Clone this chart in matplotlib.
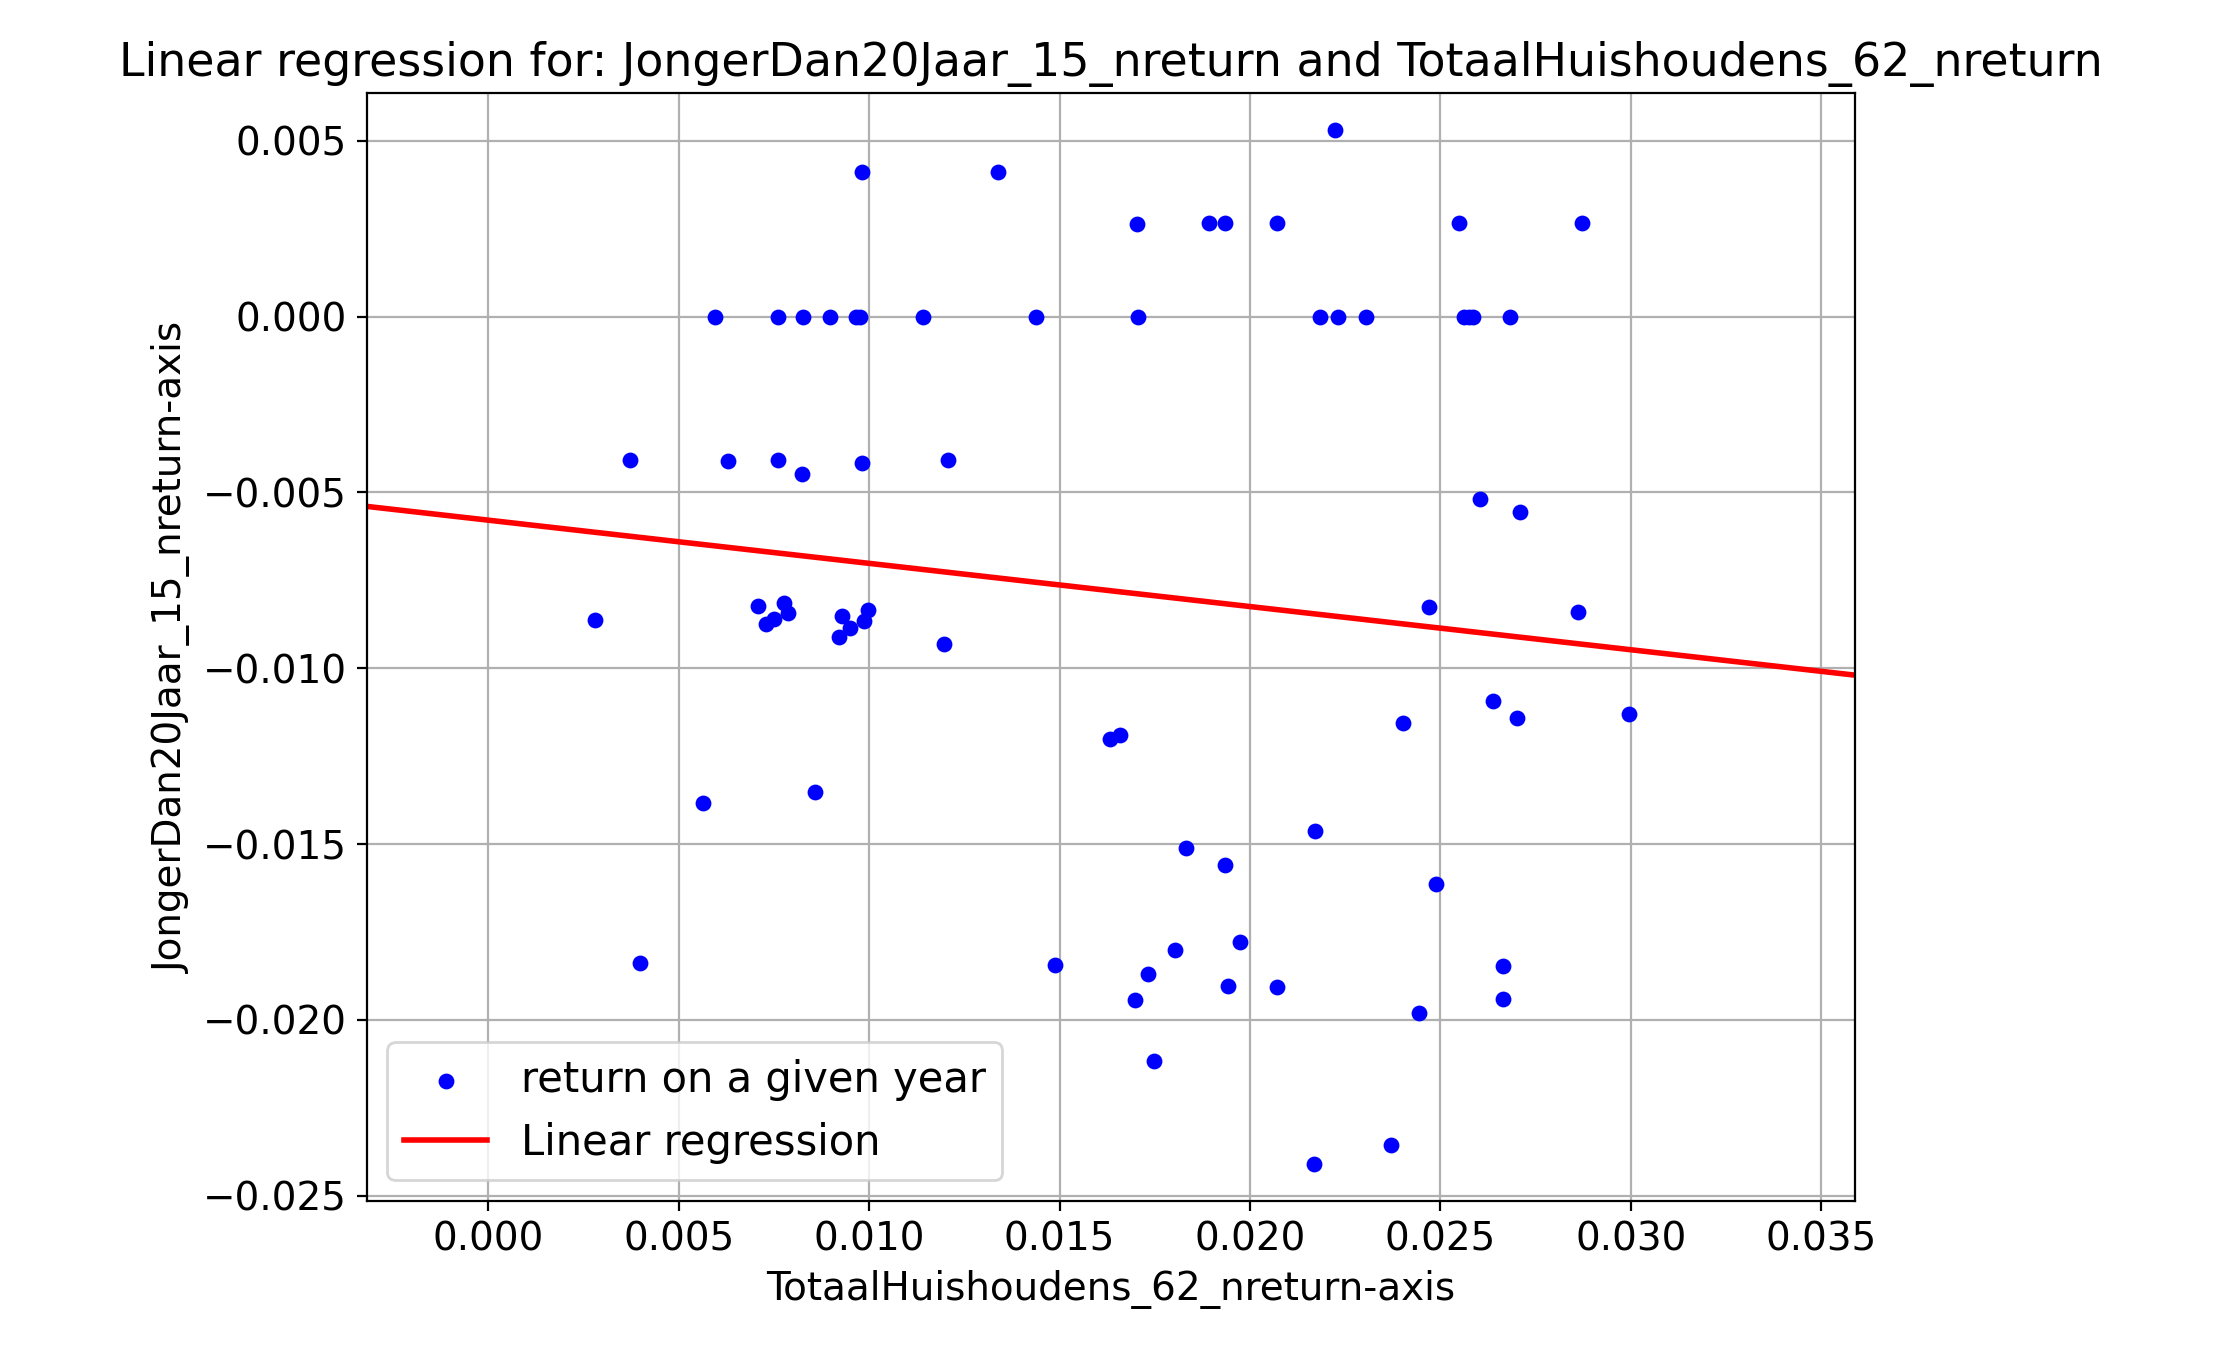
import matplotlib
matplotlib.use("Agg")
import matplotlib.pyplot as plt
import numpy as np

x_vals = [0.02224,0.0098,0.01338,0.01703,0.01893,0.01934,0.02072,0.02548,0.02873,
          0.00596,0.0076,0.00827,0.00898,0.00965,0.00976,0.0114,0.01438,0.01706,0.02183,0.02232,0.02306,0.02563,0.02575,0.02586,0.02683,
          0.00373,0.0063,0.0076,0.00823,0.0098,0.01207,0.02604,0.02709,
          0.00279,0.00708,0.0073,0.00749,0.00775,0.00786,0.00928,0.0092,0.0095,0.00987,0.00998,0.01196,0.0247,0.02861,
          0.02638,0.02701,0.02996,0.02403,0.01632,0.01658,0.00857,0.00563,0.02172,0.01833,0.01934,0.02489,
          0.01975,0.01803,0.00399,0.01487,0.02664,0.01733,0.01941,0.02072,0.01699,0.02664,0.02444,0.01747,0.0237,0.02168]
y_vals = [0.00532,0.0041,0.0041,0.00262,0.00266,0.00266,0.00266,0.00266,0.00266,
          0,0,0,0,0,0,0,0,0,0,0,0,0,0,0,0,
          -0.00407,-0.00411,-0.00407,-0.00448,-0.00415,-0.00407,-0.0052,-0.00556,
          -0.00863,-0.00823,-0.00875,-0.00859,-0.00815,-0.00843,-0.00851,-0.00911,-0.00887,-0.00867,-0.00835,-0.00931,-0.00827,-0.00839,
          -0.01093,-0.01141,-0.01129,-0.01157,-0.01202,-0.0119,-0.01351,-0.01383,-0.01464,-0.01512,-0.0156,-0.01613,
          -0.01778,-0.01802,-0.01839,-0.01843,-0.01847,-0.01871,-0.01903,-0.01907,-0.01944,-0.0194,-0.0198,-0.02117,-0.02355,-0.02411]
slope = -0.1228
intercept = -0.00579

plt.rcParams['font.size'] = 14
fig = plt.figure(figsize=(11.11, 6.81), dpi=200)
ax = fig.add_axes([0.165, 0.118, 0.67, 0.814])
ax.scatter(x_vals, y_vals, s=22, color='blue', label='return on a given year', zorder=3)
xl = (-0.0032, 0.0359)
xx = np.array(xl)
ax.plot(xx, slope * xx + intercept, color='red', lw=2, label='Linear regression')
ax.set_xlim(*xl)
ax.set_ylim(-0.02516, 0.00637)
ax.set_xticks(np.arange(0, 0.0351, 0.005))
ax.grid(True)
ax.set_axisbelow(True)
ax.set_title('Linear regression for: JongerDan20Jaar_15_nreturn and TotaalHuishoudens_62_nreturn', fontsize=16.5)
ax.set_xlabel('TotaalHuishoudens_62_nreturn-axis')
ax.set_ylabel('JongerDan20Jaar_15_nreturn-axis')
ax.legend(loc='lower left', fontsize=15)
fig.savefig('out.png')
